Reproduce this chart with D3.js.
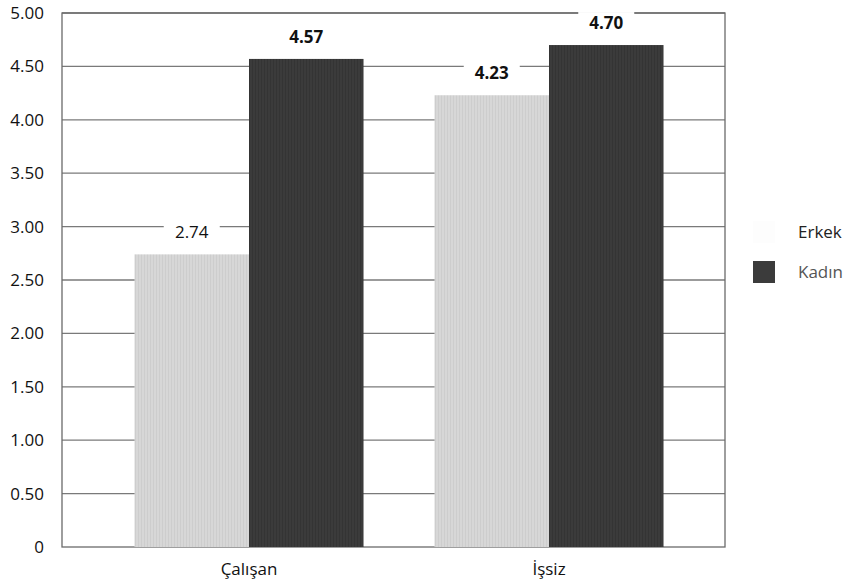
<!DOCTYPE html>
<html>
<head>
<meta charset="utf-8">
<script src="https://cdn.jsdelivr.net/npm/d3@7"></script>
<style>
  body { margin: 0; background: #fff; }
  svg, svg text { font-family: "Open Sans", "Noto Sans", sans-serif; }
  svg { display: block; }
  .tick text { font-size: 17px; fill: #111; }
</style>
</head>
<body>
<svg id="chart" width="852" height="588"></svg>
<script>
const categories = ['Çalışan', 'İşsiz'];
const series = ['Erkek', 'Kadın'];
const erkek = [2.74, 4.23];
const kadin = [4.57, 4.70];
const yTicks = [0, 0.5, 1, 1.5, 2, 2.5, 3, 3.5, 4, 4.5, 5];

const values = { Erkek: erkek, Kadın: kadin };
const colors = { Erkek: '#d7d7d7', Kadın: '#3b3b3b' };

const margin = { top: 13, right: 127, bottom: 41, left: 62 };
const svg = d3.select('#chart');
const width = 852 - margin.left - margin.right;
const height = 588 - margin.top - margin.bottom;

// stripey fills, the bars in the scan have a vertical texture
const defs = svg.append('defs');
series.forEach((s, i) => {
  const p = defs.append('pattern')
    .attr('id', 'pat' + i)
    .attr('patternUnits', 'userSpaceOnUse')
    .attr('width', 3).attr('height', 10);
  p.append('rect').attr('width', 3).attr('height', 10).attr('fill', colors[s]);
  p.append('rect').attr('width', 1).attr('height', 10)
    .attr('fill', i === 0 ? '#cdcdcd' : '#343434');
});

const g = svg.append('g').attr('transform', `translate(${margin.left},${margin.top})`);

const y = d3.scaleLinear().domain([0, 5]).range([height, 0]);
const x0 = d3.scaleBand().domain(categories).range([37, 637]);
const x1 = d3.scaleBand().domain(series).range([0, x0.bandwidth()]).paddingOuter(0.31);

// grid
g.append('g')
  .selectAll('line')
  .data(yTicks.filter(d => d > 0))
  .join('line')
  .attr('x1', 0).attr('x2', width)
  .attr('y1', d => y(d)).attr('y2', d => y(d))
  .attr('stroke', '#7a7a7a')
  .attr('stroke-width', 1.3);

// frame
g.append('rect')
  .attr('width', width).attr('height', height)
  .attr('fill', 'none')
  .attr('stroke', '#6a6a6a')
  .attr('stroke-width', 1.3);

// bars
const groups = g.append('g')
  .selectAll('g')
  .data(categories)
  .join('g')
  .attr('transform', d => `translate(${x0(d)},0)`);

groups.selectAll('rect')
  .data((c, ci) => series.map((s, si) => ({ s, si, value: values[s][ci] })))
  .join('rect')
  .attr('x', d => x1(d.s))
  .attr('width', x1.bandwidth())
  .attr('y', d => y(d.value))
  .attr('height', d => height - y(d.value))
  .attr('fill', d => `url(#pat${d.si})`);

// value labels with a white box behind them
const labels = groups.selectAll('g.lab')
  .data((c, ci) => series.map(s => ({ s, value: values[s][ci] })))
  .join('g')
  .attr('class', 'lab')
  .attr('transform', d => `translate(${x1(d.s) + x1.bandwidth() / 2},${y(d.value) - 22})`);

labels.append('rect')
  .attr('x', -28).attr('y', -11)
  .attr('width', 56).attr('height', 22)
  .attr('fill', '#fff');

labels.append('text')
  .attr('text-anchor', 'middle')
  .attr('dy', '0.36em')
  .attr('font-size', 17)
  .attr('font-weight', d => d.value < 3 ? 500 : 700)
  .attr('fill', '#111')
  .text(d => d.value.toFixed(2));

// axes
g.append('g')
  .call(d3.axisLeft(y).tickValues(yTicks)
    .tickFormat(d => d === 0 ? '0' : d3.format('.2f')(d))
    .tickSize(0).tickPadding(18))
  .call(a => a.select('.domain').remove());

g.append('g')
  .attr('transform', `translate(0,${height})`)
  .call(d3.axisBottom(x0).tickSize(0).tickPadding(16))
  .call(a => a.select('.domain').remove());

// legend
const legend = svg.append('g').attr('transform', 'translate(753,221)');
const items = legend.selectAll('g')
  .data(series)
  .join('g')
  .attr('transform', (d, i) => `translate(0,${i * 40})`);

items.append('rect')
  .attr('width', 22).attr('height', 22)
  .attr('fill', d => d === 'Erkek' ? '#fdfdfd' : colors[d]);

items.append('text')
  .attr('x', 45).attr('y', 11)
  .attr('dy', '0.36em')
  .attr('font-size', 17)
  .attr('fill', d => d === 'Erkek' ? '#222' : '#555')
  .text(d => d);
</script>
</body>
</html>
